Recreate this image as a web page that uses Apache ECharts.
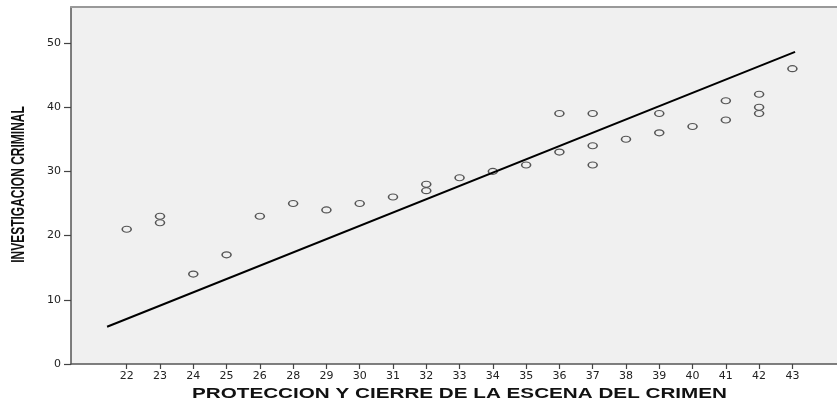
<!DOCTYPE html>
<html>
<head>
<meta charset="utf-8">
<script src="https://cdn.jsdelivr.net/npm/echarts@6/dist/echarts.min.js"></script>
<style>
html,body{margin:0;padding:0;background:#fff;}
#c{width:837px;height:402px;}
</style>
</head>
<body>
<div id="c"></div>
<script>
// X categories (tick labels, evenly spaced; 27 absent)
var categories = ['22','23','24','25','26','28','29','30','31','32','33','34','35','36','37','38','39','40','41','42','43'];
// Observed points: category label and value
var pointCat = ['22','23','23','24','25','26','28','29','30','31','32','32','33','34','35','36','36','37','37','37','38','39','39','40','41','41','42','42','42','43'];
var pointVal = [21,23,22,14,17,23,25,24,25,26,28,27,29,30,31,39,33,39,34,31,35,39,36,37,41,38,42,40,39,46];
// Fit line endpoints (in category-index units) and values
var fitX = [-0.59, 20.08];
var fitY = [5.8, 48.6];
// Y ticks
var yTicks = [0,10,20,30,40,50];

var xTitle = 'PROTECCION Y CIERRE DE LA ESCENA DEL CRIMEN';
var yTitle = 'INVESTIGACION CRIMINAL';

var scatterData = pointCat.map(function(c,i){ return [categories.indexOf(c), pointVal[i]]; });
var lineData = fitX.map(function(x,i){ return [x, fitY[i]]; });
var catIdx = categories.map(function(c,i){ return i; });

var chart = echarts.init(document.getElementById('c'), null, {renderer:'canvas'});
chart.setOption({
  animation: false,
  backgroundColor: '#ffffff',
  grid: {left:71, right:0, top:7, bottom:38, show:true, backgroundColor:'#f0f0f0', borderWidth:0},
  xAxis: [{
    type:'value', min:-1.674, max:21.34,
    splitLine:{show:false},
    axisLine:{show:true, onZero:false, lineStyle:{color:'#555', width:1.5}},
    axisTick:{show:true, customValues:catIdx, length:5, lineStyle:{color:'#444', width:1.2}},
    axisLabel:{show:true, customValues:catIdx, margin:7, color:'#222', fontFamily:'DejaVu Sans', fontSize:11,
      formatter:function(v){ return categories[Math.round(v)]; }}
  },{
    type:'value', position:'top', min:-1.674, max:21.34,
    splitLine:{show:false},
    axisLine:{show:true, onZero:false, lineStyle:{color:'#999', width:2}},
    axisTick:{show:false}, axisLabel:{show:false}
  }],
  yAxis: {
    type:'value', min:0, max:55.6,
    splitLine:{show:false},
    axisLine:{show:true, onZero:false, lineStyle:{color:'#555', width:1.5}},
    axisTick:{show:true, customValues:yTicks, length:7, lineStyle:{color:'#444', width:1.2}},
    axisLabel:{show:true, customValues:yTicks, margin:10, color:'#222', fontFamily:'DejaVu Sans', fontSize:11}
  },
  series: [{
    type:'scatter', data:scatterData, symbol:'circle', symbolSize:[9,6],
    itemStyle:{color:'rgba(0,0,0,0)', borderColor:'#555', borderWidth:1.3, opacity:1}, z:3
  },{
    type:'line', data:lineData, symbol:'none', lineStyle:{color:'#000', width:2}, z:4
  }],
  graphic: [{
    type:'text', x:459.5, y:394, scaleX:1.476, scaleY:1,
    style:{text:xTitle, font:'bold 14px "Liberation Sans", Arial, sans-serif', fill:'#111', align:'center', verticalAlign:'middle'}
  },{
    type:'text', x:19.5, y:184.5, rotation:Math.PI/2, scaleX:1, scaleY:1.5,
    style:{text:yTitle, font:'bold 12px "Liberation Sans", Arial, sans-serif', fill:'#111', align:'center', verticalAlign:'middle'}
  }]
});
</script>
</body>
</html>
